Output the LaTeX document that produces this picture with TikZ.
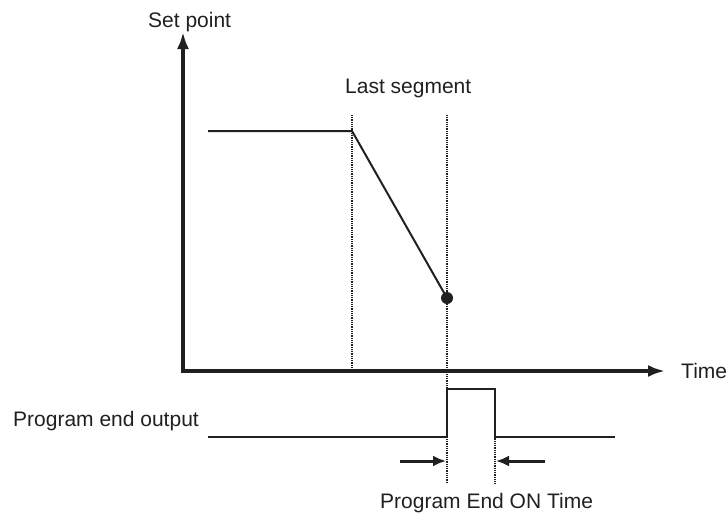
\documentclass[tikz,border=0pt]{standalone}
\usepackage{fontspec}
\setmainfont{Liberation Sans}
\usetikzlibrary{arrows.meta}
\definecolor{ink}{HTML}{231F20}
\begin{document}
\begin{tikzpicture}[x=1pt,y=-1pt,
  axisline/.style={draw=ink,line width=3.3pt,-{Latex[length=17pt,width=12pt]}},
  sigline/.style={draw=ink,line width=2pt,line join=miter},
  guide/.style={draw=ink,line width=1.5pt,dash pattern=on 1pt off 0.8pt},
  markarrow/.style={draw=ink,line width=3pt,-{Latex[length=13pt,width=11pt]}},
  lbl/.style={inner sep=0pt,anchor=base west,text=ink,font=\fontsize{21}{25}\selectfont}]
\useasboundingbox (0,0) rectangle (728,515);
% coordinates
\coordinate (O) at (183,371);
\coordinate (Ytip) at (183,32);
\coordinate (Xtip) at (665,371);
\coordinate (A) at (208,131);
\coordinate (B) at (352,131);
\coordinate (C) at (447,298);
\coordinate (G1top) at (352,115);
\coordinate (G1bot) at (352,371);
\coordinate (G2top) at (447,115);
\coordinate (G2bot) at (447,483);
\coordinate (G3top) at (495,389);
\coordinate (G3bot) at (495,483);
\coordinate (P0) at (208,437);
\coordinate (P1) at (447,437);
\coordinate (P2) at (447,389);
\coordinate (P3) at (495,389);
\coordinate (P4) at (495,437);
\coordinate (P5) at (615,437);
\coordinate (L0) at (400,461);
\coordinate (L1) at (446,461);
\coordinate (R0) at (545,461);
\coordinate (R1) at (496,461);
% guides
\draw[guide] (G1top) -- (G1bot);
\draw[guide] (G2top) -- (G2bot);
\draw[guide] (G3top) -- (G3bot);
% axes
\draw[axisline,line cap=rect] (O) -- (Ytip);
\draw[axisline] (O) -- (Xtip);
% set point profile
\draw[sigline] (A) -- (B) -- (C);
\fill[ink] (C) circle (6);
% output pulse
\draw[sigline] (P0) -- (P1) -- (P2) -- (P3) -- (P4) -- (P5);
% ON time arrows
\draw[markarrow] (L0) -- (L1);
\draw[markarrow] (R0) -- (R1);
% labels
\node[lbl] (tsp) at (148,27) {Set point};
\node[lbl] (tls) at (345,93) {Last segment};
\node[lbl] (ttime) at (681,378) {Time};
\node[lbl] (tpeo) at (13,426) {Program end output};
\node[lbl] (tpon) at (380,508) {Program End ON Time};
\end{tikzpicture}
\end{document}
